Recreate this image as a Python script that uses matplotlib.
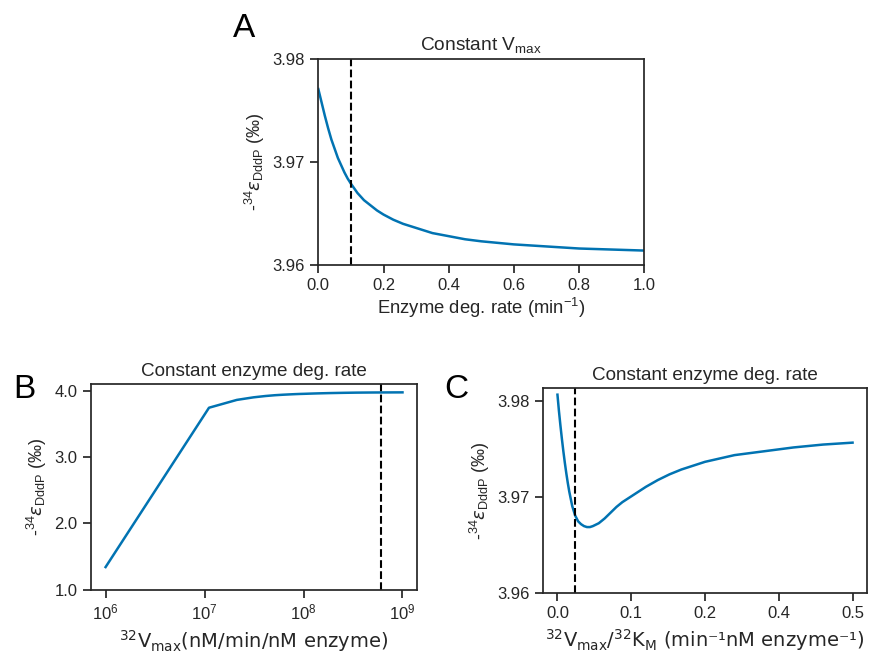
import numpy as np
import matplotlib
matplotlib.use('Agg')
import matplotlib.pyplot as plt

# --- data ---
# A: constant Vmax, varying enzyme degradation rate
degA = [0.0, 0.01, 0.02, 0.03, 0.04, 0.05, 0.06, 0.07, 0.08, 0.09, 0.10,
        0.12, 0.14, 0.16, 0.18, 0.20, 0.23, 0.26, 0.30, 0.35, 0.40, 0.45,
        0.50, 0.60, 0.70, 0.80, 0.90, 1.00]
epsA = [3.9771, 3.9758, 3.9745, 3.9733, 3.9722, 3.9713, 3.9704, 3.9697,
        3.9690, 3.9684, 3.9679, 3.9670, 3.9663, 3.9658, 3.9653, 3.9649,
        3.9644, 3.9640, 3.9636, 3.9631, 3.9628, 3.9625, 3.9623, 3.9620,
        3.9618, 3.9616, 3.9615, 3.9614]
markA = 0.1

# B: constant enzyme deg. rate, varying Vmax
vmaxB = [1e6, 1.109e7, 2.118e7, 3.127e7, 4.136e7, 5.145e7, 6.155e7, 7.164e7,
         8.173e7, 9.182e7, 1.019e8, 1.22e8, 1.423e8, 1.826e8, 2.533e8,
         3.441e8, 5.055e8, 7.073e8, 1e9]
epsB = [1.342, 3.748, 3.866, 3.905, 3.925, 3.937, 3.944, 3.949, 3.953,
        3.956, 3.958, 3.962, 3.965, 3.969, 3.973, 3.976, 3.978, 3.979, 3.980]
markB = 6.0e8

# C: constant enzyme deg. rate, varying Vmax/KM
ratioC = [0.0, 0.0025, 0.005, 0.0075, 0.01, 0.0125, 0.015, 0.0175, 0.02,
          0.025, 0.03, 0.035, 0.04, 0.045, 0.05, 0.055, 0.06, 0.07, 0.08,
          0.09, 0.10, 0.11, 0.125, 0.14, 0.15, 0.17, 0.19, 0.21, 0.25, 0.30,
          0.35, 0.40, 0.45, 0.50]
epsC = [3.9807, 3.9790, 3.9775, 3.9761, 3.9748, 3.9736, 3.9725, 3.9715,
        3.9706, 3.9691, 3.9681, 3.9675, 3.9672, 3.9670, 3.9669, 3.9669,
        3.9670, 3.9673, 3.9678, 3.9684, 3.9690, 3.9695, 3.9701, 3.9707,
        3.9711, 3.9718, 3.9724, 3.9729, 3.9737, 3.9744, 3.9748, 3.9752,
        3.9755, 3.9757]
markC = 0.0303

ticksA_x = [0.0, 0.2, 0.4, 0.6, 0.8, 1.0]
ticksA_y = [3.96, 3.97, 3.98]
ticksB_y = [1.0, 2.0, 3.0, 4.0]
ticksC_x = [0.0, 0.125, 0.25, 0.375, 0.5]
labelsC_x = ['0.0', '0.1', '0.2', '0.4', '0.5']
ticksC_y = [3.96, 3.97, 3.98]

dark = '#262626'
blue = '#0173B2'
plt.rcParams['font.family'] = ['Liberation Sans', 'DejaVu Sans']
plt.rcParams['mathtext.fontset'] = 'custom'
plt.rcParams['mathtext.rm'] = 'Liberation Sans'
plt.rcParams['mathtext.it'] = 'DejaVu Sans:italic'
plt.rcParams['axes.edgecolor'] = dark
plt.rcParams['axes.linewidth'] = 1.25
plt.rcParams['text.color'] = dark
plt.rcParams['axes.labelcolor'] = dark
plt.rcParams['xtick.color'] = dark
plt.rcParams['ytick.color'] = dark
plt.rcParams['xtick.major.size'] = 6
plt.rcParams['ytick.major.size'] = 6
plt.rcParams['xtick.major.width'] = 1.25
plt.rcParams['ytick.major.width'] = 1.25
plt.rcParams['xtick.labelsize'] = 12
plt.rcParams['ytick.labelsize'] = 12

ylab = r'-$^{34}\varepsilon_{\mathrm{DddP}}$ (‰)'
lw_line = 1.8

fig = plt.figure(figsize=(8.7, 6.57), dpi=100)

# panel A
axA = fig.add_axes([0.3659, 0.5967, 0.3747, 0.3131])
axA.plot(degA, epsA, color=blue, lw=lw_line)
axA.axvline(markA, color='k', ls='--', lw=1.5)
axA.set_xlim(0, 1)
axA.set_ylim(3.96, 3.98)
axA.set_xticks(ticksA_x)
axA.set_yticks(ticksA_y)
axA.set_title(r'Constant V$_{\mathrm{max}}$', fontsize=13.8)
axA.set_xlabel(r'Enzyme deg. rate (min$^{-1}$)', fontsize=13.3, labelpad=2)
axA.set_ylabel(ylab, fontsize=13)
fig.text(0.281, 0.956, 'A', fontsize=24, ha='center', va='center', color='k')

# panel B
axB = fig.add_axes([0.1043, 0.1024, 0.3754, 0.3131])
axB.plot(vmaxB, epsB, color=blue, lw=lw_line)
axB.axvline(markB, color='k', ls='--', lw=1.5)
axB.set_xscale('log')
axB.set_xlim(10**5.85, 10**9.15)
axB.set_ylim(1.0, 4.106)
axB.set_yticks(ticksB_y)
axB.set_yticklabels(['%.1f' % t for t in ticksB_y])
axB.minorticks_off()
axB.set_title('Constant enzyme deg. rate', fontsize=13.6)
axB.set_xlabel(r'$^{32}\mathrm{V}_{\mathrm{max}}$(nM/min/nM enzyme)',
               fontsize=14, family='DejaVu Sans', math_fontfamily='dejavusans')
axB.set_ylabel(ylab, fontsize=13)
fig.text(0.028, 0.407, 'B', fontsize=24, ha='center', va='center', color='k')

# panel C
axC = fig.add_axes([0.6238, 0.0970, 0.3731, 0.3125])
axC.plot(ratioC, epsC, color=blue, lw=lw_line)
axC.axvline(markC, color='k', ls='--', lw=1.5)
axC.set_xlim(-0.025, 0.525)
axC.set_ylim(3.96, 3.9814)
axC.set_xticks(ticksC_x)
axC.set_xticklabels(labelsC_x)
axC.set_yticks(ticksC_y)
axC.set_title('Constant enzyme deg. rate', fontsize=13.6)
axC.set_xlabel(r'$^{32}\mathrm{V}_{\mathrm{max}}/^{32}\mathrm{K}_{\mathrm{M}}$ (min⁻¹nM enzyme⁻¹)',
               fontsize=14, family='DejaVu Sans', math_fontfamily='dejavusans')
axC.set_ylabel(ylab, fontsize=13)
fig.text(0.525, 0.407, 'C', fontsize=24, ha='center', va='center', color='k')

plt.savefig('out.png', dpi=100)
